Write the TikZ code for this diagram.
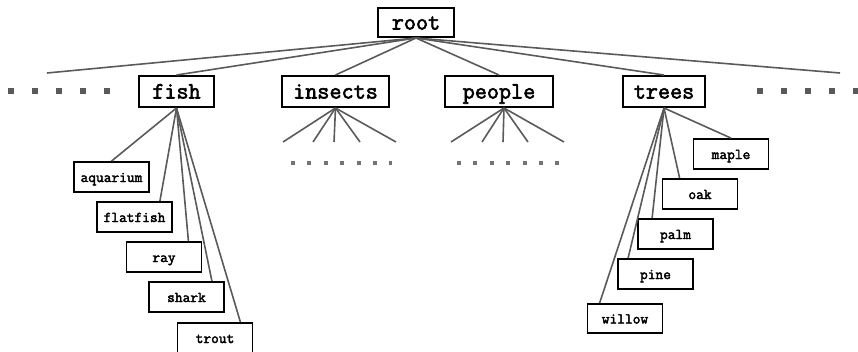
\documentclass[tikz,border=0pt]{standalone}
\usepackage{fontspec}
\newfontfamily\boxfont{Latin Modern Mono}[FakeBold=2.5]

\definecolor{edgegray}{HTML}{5A5A5A}
\definecolor{fangray}{HTML}{747474}

\tikzstyle{group} = [draw, line width=2pt, inner xsep=0pt, minimum height=31pt,
    text height=14pt, text depth=0pt, font=\fontsize{23.5}{26}\selectfont\boxfont]
\tikzstyle{leaf} = [draw, line width=1.8pt, minimum width=75pt, minimum height=30pt,
    text height=10pt, text depth=0pt, font=\fontsize{15}{17}\selectfont\boxfont]
\tikzstyle{link} = [draw=edgegray, line width=1.6pt]
\tikzstyle{more} = [draw=edgegray, line width=6pt, dash pattern=on 6pt off 18pt]
\tikzstyle{fandots} = [draw=fangray, line width=4pt, dash pattern=on 4pt off 12.4pt]

\begin{document}
\begin{tikzpicture}[x=1pt, y=-1pt]
\useasboundingbox (0,0) rectangle (858,351);

% top level
\node[group, minimum width=76pt, minimum height=29pt] (root) at (416,22.5) {root};
\node[group, minimum width=75pt]  (fish)    at (176.5,91.5) {fish};
\node[group, minimum width=107pt] (insects) at (335.5,91.5) {insects};
\node[group, minimum width=108pt] (people)  at (499,91.5)   {people};
\node[group, minimum width=82pt]  (trees)   at (664,91.5)   {trees};
\coordinate (farleft)  at (47,73);
\coordinate (farright) at (840,73);

\draw[link] (root.south) -- (farleft);
\draw[link] (root.south) -- (fish.north);
\draw[link] (root.south) -- (insects.north);
\draw[link] (root.south) -- (people.north);
\draw[link] (root.south) -- (trees.north);
\draw[link] (root.south) -- (farright);

% siblings left out
\draw[more] (7.5,91) -- (110,91);
\draw[more] (757,91) -- (858,91);

% fish
\node[leaf] (aquarium) at (111.5,177) {aquarium};
\node[leaf] (flatfish) at (134.5,217) {flatfish};
\node[leaf] (ray)      at (164,257)   {ray};
\node[leaf] (shark)    at (186.5,297) {shark};
\node[leaf] (trout)    at (215,338)   {trout};

\draw[link] (fish.south) -- (aquarium.north);
\draw[link] (fish.south) -- ([xshift=-13pt]flatfish.north east);
\draw[link] (fish.south) -- ([xshift=-14pt]ray.north east);
\draw[link] (fish.south) -- ([xshift=-13pt]shark.north east);
\draw[link] (fish.south) -- ([xshift=-13pt]trout.north east);

% insects, people: children not shown
\coordinate (ins1) at (283,142);
\coordinate (ins2) at (313,142);
\coordinate (ins3) at (334,142);
\coordinate (ins4) at (360,142);
\coordinate (ins5) at (396,142);
\draw[link] (insects.south) -- (ins1);
\draw[link] (insects.south) -- (ins2);
\draw[link] (insects.south) -- (ins3);
\draw[link] (insects.south) -- (ins4);
\draw[link] (insects.south) -- (ins5);
\draw[fandots] (291,163) -- (392,163);

\coordinate (ppl) at ([xshift=5pt]people.south);
\coordinate (ppl1) at (451,142);
\coordinate (ppl2) at (482,142);
\coordinate (ppl3) at (503,142);
\coordinate (ppl4) at (528,142);
\coordinate (ppl5) at (564,142);
\draw[link] (ppl) -- (ppl1);
\draw[link] (ppl) -- (ppl2);
\draw[link] (ppl) -- (ppl3);
\draw[link] (ppl) -- (ppl4);
\draw[link] (ppl) -- (ppl5);
\draw[fandots] (457,163) -- (561,163);

% trees
\node[leaf] (maple)  at (731,154)   {maple};
\node[leaf] (oak)    at (700,194)   {oak};
\node[leaf] (palm)   at (675.5,234) {palm};
\node[leaf] (pine)   at (655.5,274) {pine};
\node[leaf, minimum height=29pt] (willow) at (625,318.5) {willow};

\draw[link] (trees.south) -- (maple.north);
\draw[link] (trees.south) -- ([xshift=18pt]oak.north west);
\draw[link] (trees.south) -- ([xshift=15pt]palm.north west);
\draw[link] (trees.south) -- ([xshift=11pt]pine.north west);
\draw[link] (trees.south) -- ([xshift=13pt]willow.north west);
\end{tikzpicture}
\end{document}
